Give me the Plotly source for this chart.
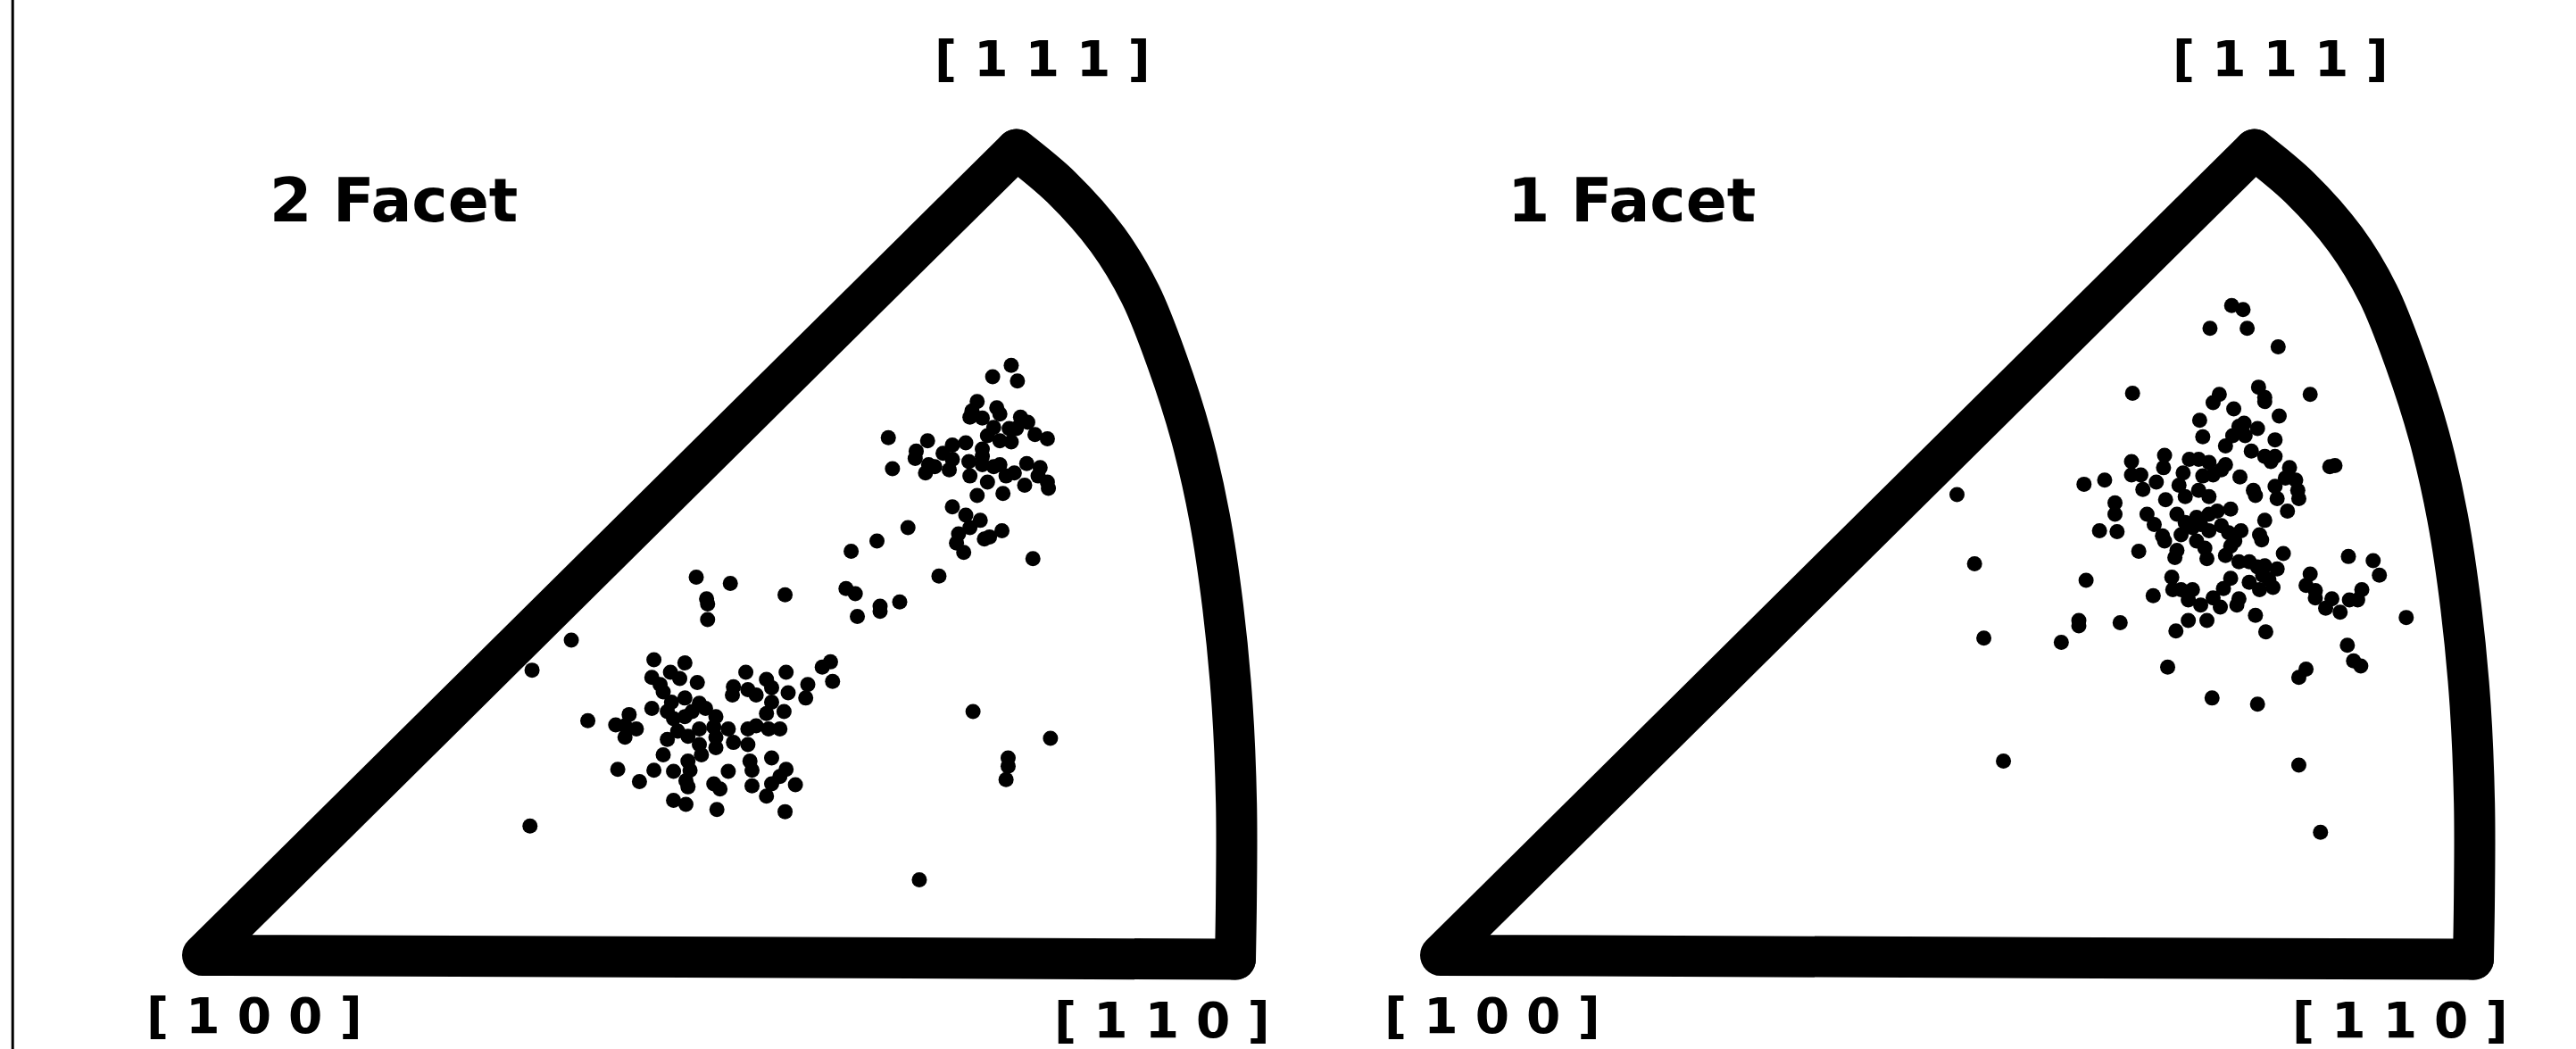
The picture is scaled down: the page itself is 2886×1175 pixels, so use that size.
import plotly.graph_objects as go

# ---------------- data (normalised stereographic-triangle units: [100]=(0,0), [110]=(1,0)) ----------------
PANEL_TITLES = ["2 Facet", "1 Facet"]
VERTEX_LABELS = ["[ 1 0 0 ]", "[ 1 1 0 ]", "[ 1 1 1 ]"]

# straight edges of the standard triangle: [111] -> [100] -> [110]
EDGE_X = [0.788, 0.000, 1.000]
EDGE_Y = [0.780, 0.000, -0.004]
# curved edge: [110] -> [111]
ARC_X = [1.000, 1.001, 1.001, 0.997, 0.988, 0.975, 0.957, 0.934, 0.908, 0.876, 0.832, 0.788]
ARC_Y = [-0.004, 0.061, 0.147, 0.242, 0.337, 0.424, 0.503, 0.575, 0.640, 0.693, 0.743, 0.780]

# "2 Facet" orientations
FACET2_X = [
    0.783, 0.765, 0.789, 0.750, 0.745, 0.743, 0.769, 0.772, 0.755, 0.792, 0.799, 0.766, 0.781, 0.788, 0.806,
    0.818, 0.760, 0.772, 0.783, 0.664, 0.702, 0.726, 0.739, 0.691, 0.690, 0.717, 0.726, 0.703, 0.709, 0.700,
    0.668, 0.723, 0.742, 0.755, 0.755, 0.755, 0.766, 0.772, 0.743, 0.760, 0.778, 0.786, 0.798, 0.811, 0.809,
    0.818, 0.819, 0.796, 0.775, 0.750, 0.726, 0.739, 0.753, 0.743, 0.732, 0.730, 0.737, 0.757, 0.762, 0.774,
    0.804, 0.683, 0.653, 0.628, 0.713,
    0.623, 0.632, 0.634, 0.656, 0.656, 0.675, 0.478, 0.511, 0.488, 0.489, 0.489, 0.564, 0.357, 0.319,
    0.437, 0.467, 0.453, 0.462, 0.435, 0.443, 0.446, 0.479, 0.526, 0.546, 0.565, 0.514, 0.513, 0.528, 0.536,
    0.551, 0.567, 0.467, 0.481, 0.487, 0.454, 0.450, 0.456, 0.467, 0.474, 0.435, 0.413, 0.400, 0.409, 0.420,
    0.409, 0.373, 0.450, 0.460, 0.470, 0.481, 0.497, 0.495, 0.509, 0.497, 0.481, 0.497, 0.514, 0.528, 0.528,
    0.536, 0.548, 0.559, 0.546, 0.563, 0.551, 0.446, 0.483, 0.470, 0.472, 0.468, 0.470, 0.456, 0.437, 0.402,
    0.423, 0.509, 0.530, 0.532, 0.551, 0.565, 0.559, 0.551, 0.546, 0.574, 0.532, 0.495, 0.501, 0.456, 0.468,
    0.498, 0.564, 0.600, 0.608, 0.610, 0.586, 0.584, 0.317,
    0.746, 0.821, 0.780, 0.780, 0.778, 0.694,
]
FACET2_Y = [
    0.571, 0.560, 0.556, 0.536, 0.527, 0.521, 0.530, 0.524, 0.520, 0.521, 0.516, 0.511, 0.510, 0.510, 0.504,
    0.500, 0.503, 0.498, 0.497, 0.501, 0.498, 0.494, 0.496, 0.488, 0.481, 0.486, 0.480, 0.475, 0.473, 0.467,
    0.471, 0.470, 0.478, 0.490, 0.483, 0.475, 0.473, 0.475, 0.464, 0.458, 0.464, 0.467, 0.476, 0.472, 0.464,
    0.458, 0.452, 0.455, 0.447, 0.445, 0.434, 0.426, 0.421, 0.414, 0.408, 0.399, 0.390, 0.403, 0.405, 0.411,
    0.384, 0.414, 0.401, 0.391, 0.367,
    0.355, 0.350, 0.328, 0.338, 0.333, 0.342, 0.366, 0.360, 0.345, 0.340, 0.325, 0.349, 0.305, 0.276,
    0.286, 0.283, 0.274, 0.268, 0.269, 0.262, 0.255, 0.264, 0.274, 0.267, 0.274, 0.260, 0.252, 0.257, 0.252,
    0.259, 0.254, 0.249, 0.244, 0.239, 0.245, 0.236, 0.229, 0.231, 0.236, 0.239, 0.233, 0.223, 0.222, 0.219,
    0.211, 0.227, 0.209, 0.217, 0.212, 0.219, 0.231, 0.221, 0.219, 0.211, 0.204, 0.201, 0.206, 0.204, 0.219,
    0.222, 0.219, 0.219, 0.234, 0.236, 0.245, 0.194, 0.194, 0.188, 0.179, 0.169, 0.163, 0.178, 0.179, 0.180,
    0.168, 0.178, 0.188, 0.179, 0.191, 0.180, 0.173, 0.166, 0.154, 0.165, 0.164, 0.166, 0.161, 0.150, 0.146,
    0.141, 0.139, 0.279, 0.284, 0.265, 0.262, 0.249, 0.125,
    0.236, 0.210, 0.191, 0.183, 0.170, 0.073,
]

# "1 Facet" orientations
FACET1_X = [
    0.766, 0.777, 0.745, 0.781, 0.811, 0.670, 0.792, 0.754, 0.798, 0.798, 0.748, 0.842, 0.768, 0.735, 0.812,
    0.778, 0.773, 0.791, 0.738, 0.767, 0.779, 0.808, 0.760, 0.785, 0.798, 0.808, 0.804, 0.701, 0.700, 0.669,
    0.669, 0.678, 0.693, 0.680, 0.719, 0.715, 0.725, 0.734, 0.744, 0.756, 0.760, 0.738, 0.748, 0.774, 0.822,
    0.818, 0.828, 0.808, 0.787, 0.789, 0.810, 0.830, 0.831, 0.820, 0.861, 0.866, 0.623, 0.643, 0.653, 0.653,
    0.702, 0.721, 0.734, 0.744, 0.684, 0.691, 0.713, 0.721, 0.732, 0.744, 0.752, 0.765, 0.798, 0.638, 0.655,
    0.699, 0.701, 0.717, 0.728, 0.736, 0.744, 0.756, 0.763, 0.775, 0.793, 0.795, 0.676, 0.713, 0.711, 0.732,
    0.740, 0.742, 0.760, 0.765, 0.769, 0.816, 0.773, 0.783, 0.791, 0.798, 0.810, 0.796, 0.802, 0.806, 0.793,
    0.783, 0.765, 0.758, 0.708, 0.709, 0.717, 0.728, 0.724, 0.736, 0.748, 0.755, 0.773, 0.771, 0.690, 0.789,
    0.724, 0.742, 0.712, 0.799, 0.842, 0.838, 0.847, 0.847, 0.857, 0.863, 0.871, 0.880, 0.888, 0.892, 0.879,
    0.903, 0.909, 0.935, 0.878, 0.884, 0.891, 0.838, 0.831, 0.704, 0.747, 0.791, 0.625, 0.618, 0.618, 0.658,
    0.601, 0.526, 0.500, 0.517, 0.545, 0.831, 0.852,
]
FACET1_Y = [
    0.629, 0.625, 0.607, 0.607, 0.589, 0.544, 0.550, 0.543, 0.540, 0.536, 0.535, 0.543, 0.529, 0.518, 0.522,
    0.515, 0.512, 0.510, 0.502, 0.503, 0.503, 0.499, 0.493, 0.488, 0.483, 0.483, 0.478, 0.484, 0.472, 0.478,
    0.465, 0.465, 0.458, 0.451, 0.467, 0.455, 0.480, 0.480, 0.477, 0.470, 0.475, 0.464, 0.465, 0.463, 0.472,
    0.462, 0.460, 0.454, 0.450, 0.445, 0.442, 0.450, 0.442, 0.430, 0.473, 0.474, 0.456, 0.460, 0.438, 0.427,
    0.441, 0.444, 0.450, 0.444, 0.427, 0.417, 0.427, 0.419, 0.424, 0.427, 0.430, 0.432, 0.421, 0.411, 0.410,
    0.406, 0.401, 0.407, 0.414, 0.417, 0.411, 0.416, 0.409, 0.411, 0.407, 0.402, 0.391, 0.392, 0.385, 0.401,
    0.394, 0.384, 0.387, 0.396, 0.401, 0.389, 0.381, 0.381, 0.376, 0.377, 0.374, 0.368, 0.364, 0.356, 0.354,
    0.361, 0.365, 0.355, 0.366, 0.354, 0.354, 0.354, 0.344, 0.339, 0.346, 0.337, 0.345, 0.339, 0.348, 0.329,
    0.324, 0.324, 0.314, 0.313, 0.369, 0.358, 0.353, 0.346, 0.336, 0.345, 0.332, 0.344, 0.344, 0.354, 0.386,
    0.382, 0.368, 0.327, 0.300, 0.285, 0.280, 0.277, 0.269, 0.279, 0.249, 0.243, 0.363, 0.324, 0.319, 0.322,
    0.303, 0.307, 0.446, 0.379, 0.188, 0.184, 0.119,
]

# ---------------- figure ----------------
W, H = 2886, 1175
XR = [-0.1962, 1.0510]
YR = [-0.0908, 0.9248]

fig = go.Figure()
panels = [("x", "y", FACET2_X, FACET2_Y), ("x2", "y2", FACET1_X, FACET1_Y)]
for xa, ya, px, py in panels:
    fig.add_trace(go.Scatter(x=EDGE_X, y=EDGE_Y, mode="lines", xaxis=xa, yaxis=ya,
                             line=dict(color="black", width=46), hoverinfo="skip", showlegend=False))
    fig.add_trace(go.Scatter(x=ARC_X, y=ARC_Y, mode="lines", xaxis=xa, yaxis=ya,
                             line=dict(color="black", width=46, shape="spline", smoothing=1.0),
                             hoverinfo="skip", showlegend=False))
    fig.add_trace(go.Scatter(x=px, y=py, mode="markers", xaxis=xa, yaxis=ya,
                             marker=dict(color="black", size=17, line=dict(width=0)),
                             hoverinfo="skip", showlegend=False))

ax_common = dict(visible=False, showgrid=False, zeroline=False, fixedrange=True)
fig.update_layout(
    width=W, height=H, autosize=False,
    margin=dict(l=0, r=0, t=0, b=0),
    paper_bgcolor="white", plot_bgcolor="rgba(0,0,0,0)",
    xaxis=dict(domain=[0, 1443 / W], range=XR, **ax_common),
    yaxis=dict(domain=[0, 1], range=YR, **ax_common),
    xaxis2=dict(domain=[1387 / W, (1387 + 1443) / W], range=XR, **ax_common),
    yaxis2=dict(domain=[0, 1], range=YR, anchor="x2", **ax_common),
    showlegend=False,
)

label_pos = [(0.050, -0.059), (0.929, -0.063), (0.813, 0.868)]
anns = []
for i, (xa, ya) in enumerate([("x", "y"), ("x2", "y2")]):
    for lab, (lx, ly) in zip(VERTEX_LABELS, label_pos):
        anns.append(dict(text=lab, x=lx, y=ly, xref=xa, yref=ya, showarrow=False,
                         xanchor="center", yanchor="middle",
                         font=dict(family="DejaVu Sans", size=55, color="black", weight="bold")))
    anns.append(dict(text=PANEL_TITLES[i], x=0.185, y=0.731, xref=xa, yref=ya, showarrow=False,
                     xanchor="center", yanchor="middle",
                     font=dict(family="DejaVu Sans", size=68, color="black", weight="bold")))
fig.update_layout(annotations=anns)

# thin frame line at the left edge of the picture
fig.add_shape(type="line", xref="paper", yref="paper", x0=14.2 / W, x1=14.2 / W, y0=0, y1=1,
              line=dict(color="black", width=3))

post = """
document.body.style.margin='0';
document.querySelectorAll('path.js-line').forEach(function(p){
  p.style.strokeLinejoin='round'; p.style.strokeLinecap='round';
});
"""
fig.write_html("out.html", config={"displayModeBar": False}, post_script=post)
